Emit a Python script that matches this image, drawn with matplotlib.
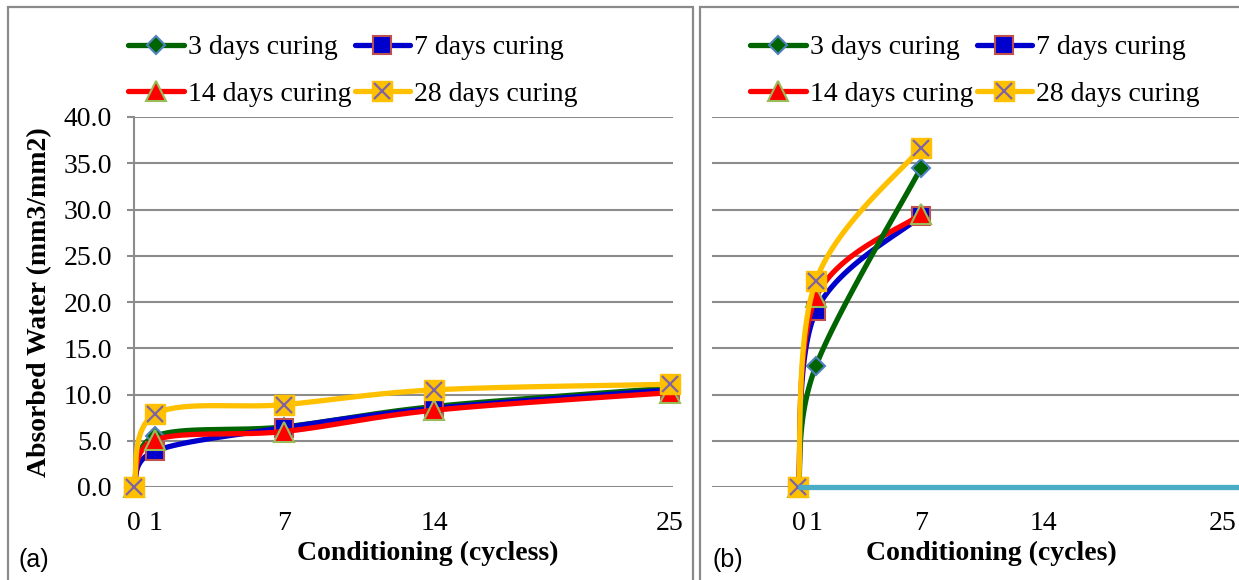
import numpy as np
import matplotlib
matplotlib.use("Agg")
import matplotlib.pyplot as plt
from matplotlib.lines import Line2D
from matplotlib.patches import Rectangle
from matplotlib.legend_handler import HandlerTuple

# ---------------- data ----------------
cycles_a = [0, 1, 7, 14, 25]
a_3d = [0, 5.5, 6.5, 8.7, 10.7]
a_7d = [0, 3.9, 6.4, 8.5, 10.5]
a_14d = [0, 5.1, 6.0, 8.3, 10.2]
a_28d = [0, 7.9, 8.9, 10.5, 11.1]

cycles_b = [0, 1, 7]
b_3d = [0, 13.1, 34.5]
b_7d = [0, 19.0, 29.3]
b_14d = [0, 20.5, 29.5]
b_28d = [0, 22.3, 36.7]
baseline_x = [0, 26]
baseline_y = [0, 0]

xticks = [0, 1, 7, 14, 25]
yticks = [0, 5, 10, 15, 20, 25, 30, 35, 40]
labels = ["3 days curing", "7 days curing", "14 days curing", "28 days curing"]

# ---------------- style ----------------
W, H = 1239, 580
SERIF = "Liberation Serif"
FS = 20
LW = 3.8
GRID = "#8c8c8c"
styles = [
    dict(color="#006400", marker="D", ms=9.5, mfc="#006400", mec="#4F81BD", mew=1.5),
    dict(color="#0000CC", marker="s", ms=13, mfc="#0000CC", mec="#C0504D", mew=1.5),
    dict(color="#FF0000", marker="^", ms=14, mfc="#FF0000", mec="#9BBB59", mew=1.5),
    dict(color="#FFC000", marker="s", ms=14, mfc="#FFC000", mec="#FFC000", mew=1.0),
]
XCOL = "#8064A2"

fig = plt.figure(figsize=(W / 100, H / 100), dpi=100)
fig.patch.set_facecolor("white")


def px_axes(left, right, top, bottom):
    return fig.add_axes([left / W, 1 - bottom / H, (right - left) / W, (bottom - top) / H])


def smooth(ax, x, y, n=50):
    pts = ax.transData.transform(np.column_stack([x, y]).astype(float))
    P = np.vstack([pts[0], pts, pts[-1]])
    out = []
    t = np.linspace(0, 1, n)[:, None]
    for i in range(1, len(P) - 2):
        p0, p1, p2, p3 = P[i - 1], P[i], P[i + 1], P[i + 2]
        c1 = p1 + (p2 - p0) / 6.0
        c2 = p2 - (p3 - p1) / 6.0
        seg = (1 - t) ** 3 * p1 + 3 * (1 - t) ** 2 * t * c1 + 3 * (1 - t) * t ** 2 * c2 + t ** 3 * p2
        out.append(seg if i == 1 else seg[1:])
    d = np.vstack(out)
    inv = ax.transData.inverted().transform(d)
    return inv[:, 0], inv[:, 1]


def setup(ax, xlim, show_y):
    ax.set_xlim(*xlim)
    ax.set_ylim(0, 40)
    ax.set_yticks(yticks)
    ax.set_xticks(xticks)
    ax.set_xticklabels([str(v) for v in xticks], fontfamily=SERIF, fontsize=FS)
    ax.tick_params(axis="x", length=0, pad=17)
    for s in ["top", "right", "bottom"]:
        ax.spines[s].set_visible(False)
    if show_y:
        ax.spines["left"].set_color(GRID)
        ax.spines["left"].set_linewidth(1.5)
        ax.set_yticklabels([f"{v:.1f}" for v in yticks], fontfamily=SERIF, fontsize=FS)
        ax.tick_params(axis="y", length=5, width=1.5, color=GRID, pad=11)
    else:
        ax.spines["left"].set_visible(False)
        ax.tick_params(axis="y", length=0, labelleft=False)
    ax.yaxis.grid(True, color=GRID, linewidth=1.5)
    ax.set_axisbelow(True)
    ax.set_facecolor("none")


def draw_series(ax, x, y, st, with_x=False, z=3):
    sx, sy = smooth(ax, x, y)
    ax.plot(sx, sy, color=st["color"], lw=LW, solid_capstyle="round", zorder=z, clip_on=False)
    ax.plot(x, y, ls="none", marker=st["marker"], ms=st["ms"], mfc=st["mfc"], mec=st["mec"],
            mew=st["mew"], zorder=z + 0.5, clip_on=False)
    if with_x:
        ax.plot(x, y, ls="none", marker="x", ms=st["ms"] * 0.85, mec=XCOL, mew=1.6,
                zorder=z + 0.6, clip_on=False)


def legend_handles():
    hs = []
    for i, st in enumerate(styles):
        h = Line2D([], [], color=st["color"], lw=LW, marker=st["marker"], ms=st["ms"],
                   mfc=st["mfc"], mec=st["mec"], mew=st["mew"], solid_capstyle="round")
        if i == 3:
            hx = Line2D([], [], ls="none", marker="x", ms=st["ms"] * 0.85, mec=XCOL, mew=1.6)
            h = (h, hx)
        hs.append(h)
    return hs


def add_legend(left_px, top_px):
    hs = legend_handles()
    order = [0, 2, 1, 3]  # row-wise filling for 2 columns
    leg = fig.legend([hs[i] for i in order], [labels[i] for i in order], ncol=2, loc="upper left",
                     bbox_to_anchor=(left_px / W, 1 - top_px / H),
                     frameon=False, prop={"family": SERIF, "size": FS},
                     handlelength=2.0, handletextpad=0.15, columnspacing=0.12,
                     labelspacing=0.75, borderpad=0, borderaxespad=0, numpoints=1,
                     handler_map={tuple: HandlerTuple(ndivide=1, pad=0)})
    return leg


# ---------------- panel borders ----------------
fig.patches.append(Rectangle((7.5 / W, -0.1), (692.5 - 7.5) / W, 1.1 - 6.5 / H,
                             transform=fig.transFigure, fill=False, ec="#8a8a8a", lw=1.6))
fig.patches.append(Rectangle((700 / W, -0.1), 0.5, 1.1 - 6.5 / H,
                             transform=fig.transFigure, fill=False, ec="#8a8a8a", lw=1.6))

# ---------------- panel (a) ----------------
axa = px_axes(134, 673, 117, 487)
setup(axa, (0, 25.14), True)
draw_series(axa, cycles_a, a_3d, styles[0], z=3)
draw_series(axa, cycles_a, a_7d, styles[1], z=4)
draw_series(axa, cycles_a, a_14d, styles[2], z=5)
draw_series(axa, cycles_a, a_28d, styles[3], with_x=True, z=6)
fig.text(40 / W, 1 - 302 / H, "Absorbed Water (mm3/mm2)", rotation=90, ha="center", va="center",
         fontfamily=SERIF, fontsize=FS, fontweight="bold")
fig.text(428 / W, 1 - 553 / H, "Conditioning (cycless)", ha="center", va="center",
         fontfamily=SERIF, fontsize=FS, fontweight="bold")
fig.text(18 / W, 1 - 560 / H, "(a)", ha="left", va="center", fontfamily="Liberation Sans", fontsize=18)
add_legend(128, 35)

# ---------------- panel (b) ----------------
axb = px_axes(712, 1245, 117, 487)
setup(axb, (-4.94, 25.51), False)
draw_series(axb, cycles_b, b_7d, styles[1], z=3)
draw_series(axb, cycles_b, b_14d, styles[2], z=4)
draw_series(axb, cycles_b, b_3d, styles[0], z=5)
draw_series(axb, cycles_b, b_28d, styles[3], with_x=True, z=6)
axb.plot(baseline_x, baseline_y, color="#4BACC6", lw=LW, solid_capstyle="butt", zorder=7, clip_on=False)
for lab in axb.get_xticklabels():
    if lab.get_text() == "25":
        lab.set_horizontalalignment("right")
        lab.set_x(25)
fig.text(991 / W, 1 - 553 / H, "Conditioning (cycles)", ha="center", va="center",
         fontfamily=SERIF, fontsize=FS, fontweight="bold")
fig.text(712 / W, 1 - 560 / H, "(b)", ha="left", va="center", fontfamily="Liberation Sans", fontsize=18)
add_legend(750, 35)

fig.savefig("out.png", dpi=100, facecolor="white")
